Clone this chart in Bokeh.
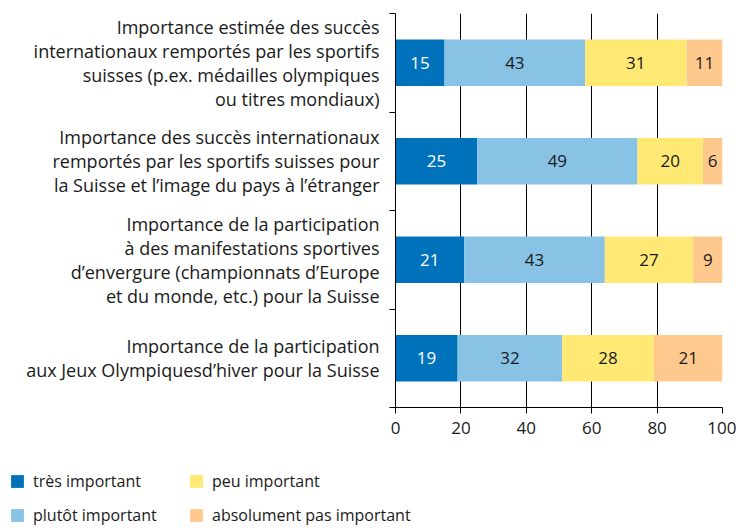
from bokeh.plotting import figure
from bokeh.layouts import column
from bokeh.models import FixedTicker, Legend, LegendItem, ColumnDataSource, Range1d
from bokeh.core.properties import value
from bokeh.embed import file_html
from bokeh.resources import INLINE

categories = [
    "Importance estimée des succès\ninternationaux remportés par les sportifs\nsuisses (p.ex. médailles olympiques\nou titres mondiaux)",
    "Importance des succès internationaux\nremportés par les sportifs suisses pour\nla Suisse et l’image du pays à l’étranger",
    "Importance de la participation\nà des manifestations sportives\nd’envergure (championnats d’Europe\net du monde, etc.) pour la Suisse",
    "Importance de la participation\naux Jeux Olympiquesd’hiver pour la Suisse",
]
tres = [15, 25, 21, 19]
plutot = [43, 49, 43, 32]
peu = [31, 20, 27, 28]
absolument = [11, 6, 9, 21]
series_names = ["très important", "plutôt important", "peu important", "absolument pas important"]
x_ticks = [0, 20, 40, 60, 80, 100]

colors = ["#0072BB", "#88C2E5", "#FFE974", "#FFC98E"]
label_colors = ["#ffffff", "#1a1a1a", "#1a1a1a", "#1a1a1a"]
FONT = "Open Sans"
TXT = "#1a1a1a"

n = len(categories)
ypos = [n - 0.5 - i for i in range(n)]
keys = ["tres", "plutot", "peu", "absolument"]
series = [tres, plutot, peu, absolument]
src = ColumnDataSource(dict(y=ypos, **{k: s for k, s in zip(keys, series)}))

p = figure(width=736, height=460, x_range=Range1d(0, 100), y_range=Range1d(0, n),
           output_backend="svg", toolbar_location=None,
           min_border_left=395, min_border_right=14, min_border_top=13, min_border_bottom=53)
p.outline_line_color = None
p.background_fill_color = "white"
p.frame_align = False

rends = p.hbar_stack(keys, y="y", height=0.47, color=colors, source=src, line_width=0)

# value labels
lx, ly, lt, lc = [], [], [], []
for i in range(n):
    cum = 0
    for j, s in enumerate(series):
        v = s[i]
        lx.append(cum + v / 2)
        ly.append(ypos[i])
        lt.append(str(v))
        lc.append(label_colors[j])
        cum += v
p.text(x=lx, y=ly, text=lt, text_color=lc, text_align="center", text_baseline="middle",
       text_font=value(FONT), text_font_size="17px")

# x axis
p.xaxis.ticker = FixedTicker(ticks=x_ticks)
p.xgrid.ticker = FixedTicker(ticks=x_ticks)
p.xgrid.grid_line_color = "black"
p.xgrid.grid_line_alpha = 1
p.xgrid.grid_line_width = 1
p.ygrid.visible = False
p.xaxis.axis_line_color = "black"
p.xaxis.major_tick_line_color = "black"
p.xaxis.major_tick_in = 0
p.xaxis.major_tick_out = 6
p.xaxis.minor_tick_line_color = None
p.xaxis.major_label_text_font = FONT
p.xaxis.major_label_text_font_size = "17px"
p.xaxis.major_label_text_color = TXT
p.xaxis.major_label_standoff = 8

# y axis
p.yaxis.ticker = FixedTicker(ticks=ypos, minor_ticks=list(range(n + 1)))
p.yaxis.major_label_overrides = {ypos[i]: categories[i] for i in range(n)}
p.yaxis.axis_line_color = "black"
p.yaxis.major_tick_in = 0
p.yaxis.major_tick_out = 0
p.yaxis.minor_tick_in = 0
p.yaxis.minor_tick_out = 6
p.yaxis.minor_tick_line_color = "black"
p.yaxis.major_label_text_font = FONT
p.yaxis.major_label_text_font_size = "18px"
p.yaxis.major_label_text_color = TXT
p.yaxis.major_label_text_line_height = 1.0
p.yaxis.major_label_standoff = 10

# legend in its own strip below
lf = figure(width=736, height=68, x_range=Range1d(0, 1), y_range=Range1d(0, 1),
            output_backend="svg", toolbar_location=None,
            min_border_left=0, min_border_right=0, min_border_top=0, min_border_bottom=0)
lf.frame_align = False
lf.axis.visible = False
lf.grid.visible = False
lf.outline_line_color = None
dummy = ColumnDataSource(dict(y=[-10], l=[0], r=[1]))
lrends = [lf.hbar(y="y", left="l", right="r", height=0.5, color=c, line_width=0, source=dummy)
          for c in colors]
items = [LegendItem(label=series_names[i], renderers=[lrends[i]]) for i in range(4)]
legend = Legend(items=items, location=(9, 2), orientation="vertical", ncols=2,
                glyph_width=16, glyph_height=16, label_standoff=8, spacing=11,
                padding=0, margin=0, border_line_color=None, background_fill_alpha=0,
                label_text_font=FONT, label_text_font_size="16px", label_text_color=TXT,
                label_width=144, label_height=23)
lf.add_layout(legend, "center")

layout = column(p, lf, spacing=0)
open("out.html", "w").write(file_html(layout, INLINE))
